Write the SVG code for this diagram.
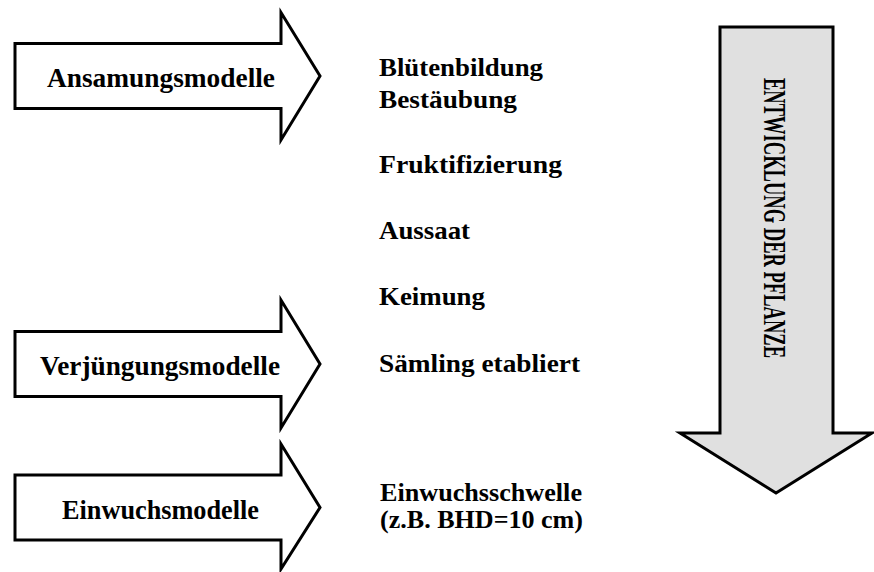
<svg xmlns="http://www.w3.org/2000/svg" width="874" height="572" viewBox="0 0 874 572">
<style>
.arrow{fill:#ffffff;stroke:#000000;stroke-width:3;stroke-linejoin:miter}
.big{fill:#e0e0e0;stroke:#000000;stroke-width:3;stroke-linejoin:miter}
.lbl{font-family:"Liberation Serif","Times New Roman",serif;font-weight:bold;font-size:26.5px;fill:#000}
.stage{font-family:"Liberation Serif","Times New Roman",serif;font-weight:bold;font-size:25px;fill:#000}
.vert{font-family:"Liberation Serif","Times New Roman",serif;font-weight:bold;font-size:31px;fill:#000}
</style>
<rect width="874" height="572" fill="#ffffff"/>
<g id="ansamungsmodelle">
<polygon class="arrow" points="15,43.5 281,43.5 281,12.5 320,76 281,140 281,108.5 15,108.5"/>
<text class="lbl" x="47" y="87" textLength="228" lengthAdjust="spacingAndGlyphs">Ansamungsmodelle</text>
</g>
<g id="verjuengungsmodelle">
<polygon class="arrow" points="15,331.5 281,331.5 281,300 320,364 281,428 281,396.5 15,396.5"/>
<text class="lbl" x="40" y="375" textLength="240" lengthAdjust="spacingAndGlyphs">Verjüngungsmodelle</text>
</g>
<g id="einwuchsmodelle">
<polygon class="arrow" points="15,475 281,475 281,444 320,507.5 281,569 281,540 15,540"/>
<text class="lbl" x="62" y="519" textLength="197" lengthAdjust="spacingAndGlyphs">Einwuchsmodelle</text>
</g>
<g id="entwicklung">
<polygon class="big" points="720,27 833,27 833,433 872,433 776,493 680,433 720,433"/>
<text class="vert" transform="translate(764,78) rotate(90)" x="0" y="0" textLength="280" lengthAdjust="spacingAndGlyphs">ENTWICKLUNG DER PFLANZE</text>
</g>
<g id="stages">
<text class="stage" x="379" y="76" textLength="164" lengthAdjust="spacingAndGlyphs">Blütenbildung</text>
<text class="stage" x="379" y="108" textLength="138" lengthAdjust="spacingAndGlyphs">Bestäubung</text>
<text class="stage" x="379" y="173" textLength="183" lengthAdjust="spacingAndGlyphs">Fruktifizierung</text>
<text class="stage" x="379" y="239" textLength="91" lengthAdjust="spacingAndGlyphs">Aussaat</text>
<text class="stage" x="379" y="305" textLength="106" lengthAdjust="spacingAndGlyphs">Keimung</text>
<text class="stage" x="379" y="372" textLength="201" lengthAdjust="spacingAndGlyphs">Sämling etabliert</text>
<text class="stage" x="380" y="501" textLength="202" lengthAdjust="spacingAndGlyphs">Einwuchsschwelle</text>
<text class="stage" x="380" y="528" textLength="203" lengthAdjust="spacingAndGlyphs">(z.B. BHD=10 cm)</text>
</g>
<g id="connectors"></g>
</svg>
